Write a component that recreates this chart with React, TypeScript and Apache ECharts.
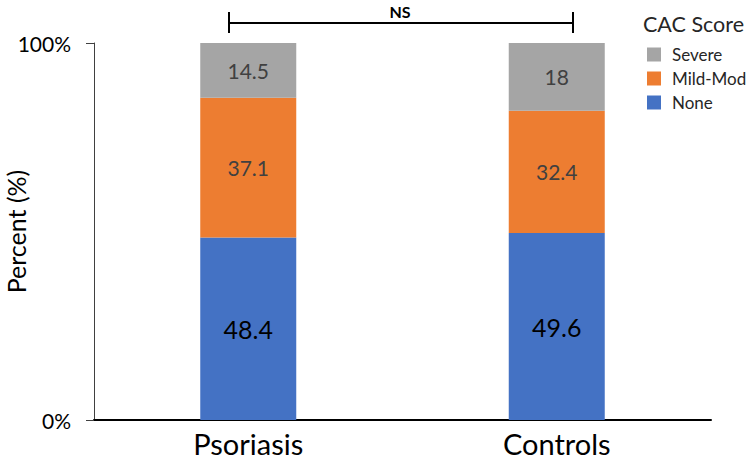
import React, { useEffect, useRef } from "react";
import * as echarts from "echarts";

const categories = ["Psoriasis", "Controls"];
const noneValues = [48.4, 49.6];
const mildModValues = [37.1, 32.4];
const severeValues = [14.5, 18];
const yTicks = [0, 100];
const legendOrder = ["Severe", "Mild-Mod", "None"];

const FONT = "Lato, 'Open Sans', sans-serif";

export default function App() {
  const ref = useRef<HTMLDivElement>(null);
  useEffect(() => {
    if (!ref.current) return;
    const chart = echarts.init(ref.current, undefined, { renderer: "svg" });
    const segLabel = (color: string, size: number) => ({
      show: true,
      position: "inside",
      color,
      fontSize: size,
      fontFamily: FONT,
      formatter: (p: any) => String(p.value),
    });
    chart.setOption({
      animation: false,
      textStyle: { fontFamily: FONT },
      title: {
        text: "CAC Score",
        left: 643,
        top: 13,
        padding: 0,
        textStyle: { fontSize: 21.5, fontWeight: "normal", color: "#262626", fontFamily: FONT },
      },
      legend: {
        data: legendOrder,
        orient: "vertical",
        left: 647,
        top: 46,
        padding: 0,
        itemWidth: 14,
        itemHeight: 14,
        itemGap: 7,
        icon: "rect",
        textStyle: { fontSize: 17, color: "#262626", fontFamily: FONT, padding: [0, 0, 0, 6] },
      },
      grid: { left: 94, right: 39, top: 43, bottom: 39, containLabel: false, outerBoundsMode: "none" },
      xAxis: {
        type: "category",
        data: categories,
        axisLine: { lineStyle: { color: "#000", width: 2 } },
        axisTick: { show: false },
        axisLabel: { fontSize: 29, lineHeight: 30, color: "#000", margin: 8, fontFamily: FONT },
      },
      yAxis: {
        type: "value",
        min: yTicks[0],
        max: yTicks[yTicks.length - 1],
        interval: 100,
        name: "Percent (%)",
        nameLocation: "middle",
        nameGap: 66,
        nameMoveOverlap: false,
        nameTextStyle: { fontSize: 25, color: "#000", fontFamily: FONT },
        axisLine: { show: true, lineStyle: { color: "#404040", width: 1 } },
        axisTick: { show: true, length: 8, lineStyle: { color: "#404040" } },
        splitLine: { show: false },
        axisLabel: { fontSize: 21, color: "#000", margin: 23, formatter: "{value}%", fontFamily: FONT },
      },
      series: [
        {
          name: "None",
          type: "bar",
          stack: "cac",
          barWidth: 96,
          data: noneValues,
          itemStyle: { color: "#4472C4" },
          label: segLabel("#000", 25),
        },
        {
          name: "Mild-Mod",
          type: "bar",
          stack: "cac",
          barWidth: 96,
          data: mildModValues,
          itemStyle: { color: "#ED7D31" },
          label: segLabel("#404040", 21),
        },
        {
          name: "Severe",
          type: "bar",
          stack: "cac",
          barWidth: 96,
          data: severeValues,
          itemStyle: { color: "#A5A5A5" },
          label: segLabel("#404040", 21),
        },
      ],
      graphic: [
        { type: "line", shape: { x1: 229, y1: 23, x2: 573, y2: 23 }, style: { stroke: "#000", lineWidth: 2 } },
        { type: "line", shape: { x1: 229, y1: 12, x2: 229, y2: 33 }, style: { stroke: "#000", lineWidth: 2 } },
        { type: "line", shape: { x1: 573, y1: 12, x2: 573, y2: 33 }, style: { stroke: "#000", lineWidth: 2 } },
        {
          type: "text",
          x: 400,
          y: 11,
          style: { text: "NS", fontSize: 16, fontWeight: "bold", fill: "#000", align: "center", verticalAlign: "middle", fontFamily: FONT },
        },
      ],
    });
    return () => chart.dispose();
  }, []);
  return <div ref={ref} style={{ width: 750, height: 459, position: "absolute", left: 0, top: 0 }} />;
}
